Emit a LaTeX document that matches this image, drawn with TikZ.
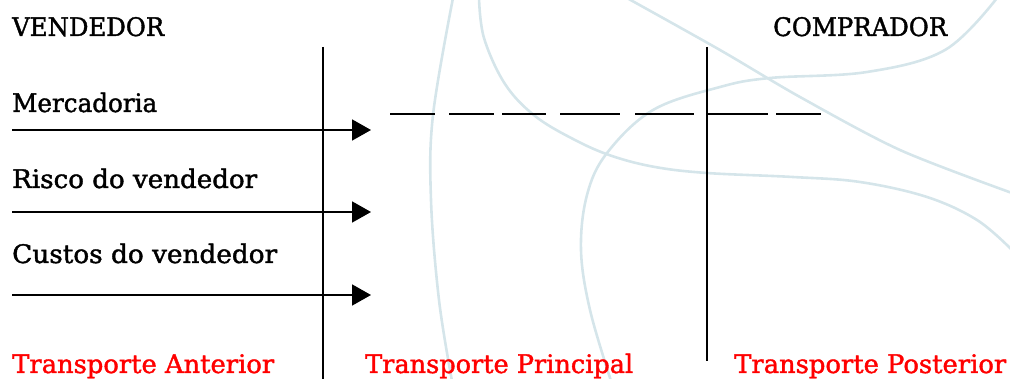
\documentclass[tikz,border=0pt]{standalone}
\usepackage{fontspec}
\setmainfont{DejaVu Serif}[FakeBold=1.5]
\usetikzlibrary{arrows.meta}
\definecolor{deco}{HTML}{D5E5EA}
\definecolor{pured}{HTML}{FF0000}
\newcommand{\fitw}[2]{\resizebox{#1}{\height}{#2}}
\tikzset{
  lbl/.style={anchor=base west, inner sep=0pt, font=\fontsize{25.5}{28}\selectfont},
  redlbl/.style={lbl, text=pured},
  decoline/.style={draw=deco, line width=2.6pt},
  divider/.style={draw=black, line width=1.8pt},
  flow/.style={draw=black, line width=1.8pt, -{Triangle[length=19pt,width=21pt]}},
  route/.style={draw=black, line width=1.3pt,
    dash pattern=on 45pt off 14pt on 45pt off 8pt on 44pt off 14pt on 60pt off 15pt on 59pt off 14pt on 60pt off 8pt on 45pt off 200pt}
}
\begin{document}
\begin{tikzpicture}[x=1pt,y=-1pt]
\useasboundingbox (0,0) rectangle (1010,379);
% decorative background curves
\draw[decoline] plot[smooth, tension=0.6] coordinates {(453,-2) (433,115) (431,200) (439,300) (452,381)};
\draw[decoline] plot[smooth, tension=0.6] coordinates {(479,-2) (484,38) (505,84) (535,116) (575,140) (612,156) (655,167) (707,173) (793,177) (860,182) (927,197) (977,220) (1012,250)};
\draw[decoline] plot[smooth, tension=0.5] coordinates {(627,-2) (720,50) (800,97) (900,150) (1012,193)};
\draw[decoline] plot[smooth, tension=0.6] coordinates {(997,-2) (945,50) (867,72) (770,78) (720,87) (653,110) (607,153) (587,195) (581,250) (590,310) (611,381)};
% dividers
\coordinate (d1t) at (323,47);
\coordinate (d1b) at (323,379);
\coordinate (d2t) at (707,47);
\coordinate (d2b) at (707,361);
\draw[divider] (d1t) -- (d1b);
\draw[divider] (d2t) -- (d2b);
% dashed route
\coordinate (rs) at (390,114);
\coordinate (re) at (821,114);
\draw[route] (rs) -- (re);
% labels
\node[lbl] (vend) at (12,36) {\fitw{152pt}{VENDEDOR}};
\node[lbl] (comp) at (773,36) {\fitw{174pt}{COMPRADOR}};
\node[lbl] (merc) at (12,112) {\fitw{145pt}{Mercadoria}};
\node[lbl] (risc) at (12,188) {\fitw{245pt}{Risco do vendedor}};
\node[lbl] (cust) at (12,263) {\fitw{265pt}{Custos do vendedor}};
\node[redlbl] (tant) at (12,373) {\fitw{262pt}{Transporte Anterior}};
\node[redlbl] (tpri) at (365,373) {\fitw{268pt}{Transporte Principal}};
\node[redlbl] (tpos) at (734,373) {\fitw{272pt}{Transporte Posterior}};
% arrows
\coordinate (a1s) at (12,130);
\coordinate (a1e) at (371,130);
\coordinate (a2s) at (12,212);
\coordinate (a2e) at (371,212);
\coordinate (a3s) at (12,295);
\coordinate (a3e) at (371,295);
\draw[flow] (a1s) -- (a1e);
\draw[flow] (a2s) -- (a2e);
\draw[flow] (a3s) -- (a3e);
\end{tikzpicture}
\end{document}
